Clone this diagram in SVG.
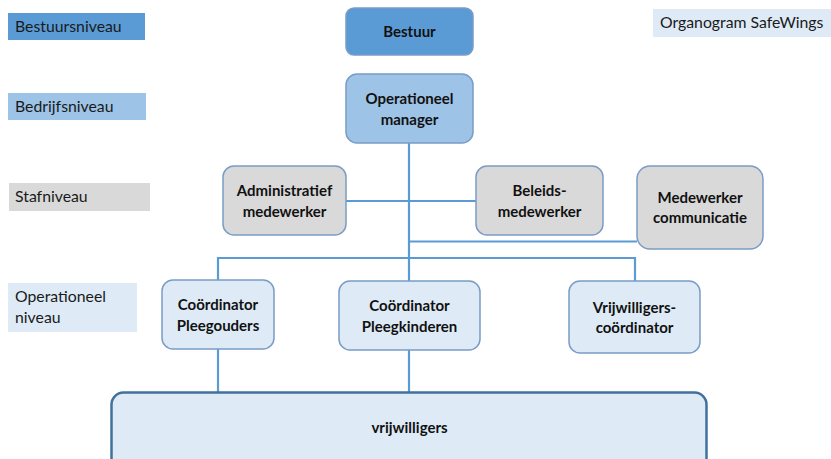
<svg xmlns="http://www.w3.org/2000/svg" width="831" height="459" viewBox="0 0 831 459">
  <style>
    .lvl { font-family: Lato, "Open Sans", "Liberation Sans", sans-serif; font-size: 15.8px; fill: #1a1a1a; }
    .box { stroke: #7a9cc6; stroke-width: 1.5; }
    .t { font-family: Lato, "Open Sans", "Liberation Sans", sans-serif; font-size: 15px; font-weight: bold; fill: #111; text-anchor: middle; }
    .c { stroke: #5b9bd5; stroke-width: 2.2; fill: none; }
  </style>
  <rect width="831" height="459" fill="#ffffff"/>

  <!-- level labels -->
  <g id="lvl-bestuur"><rect x="8" y="13" width="137" height="27" fill="#5b9bd5"/><text class="lvl" x="15" y="32">Bestuursniveau</text></g>
  <g id="lvl-bedrijf"><rect x="8" y="93" width="138" height="27" fill="#9dc3e6"/><text class="lvl" x="15" y="112">Bedrijfsniveau</text></g>
  <g id="lvl-staf"><rect x="9" y="183" width="141" height="28" fill="#d9d9d9"/><text class="lvl" x="15" y="202">Stafniveau</text></g>
  <g id="lvl-operationeel"><rect x="8" y="283" width="129" height="49" fill="#deebf7"/><text class="lvl" x="15" y="302">Operationeel</text><text class="lvl" x="15" y="323">niveau</text></g>
  <g id="title"><rect x="653" y="9" width="178" height="28" fill="#deebf7"/><text class="lvl" x="660" y="28">Organogram SafeWings</text></g>

  <!-- connectors -->
  <g id="connectors">
    <path class="c" d="M409 143 V281"/>
    <path class="c" d="M409 350 V392"/>
    <path class="c" d="M346 201 H476"/>
    <path class="c" d="M409 241.5 H637"/>
    <path class="c" d="M218 280 V258 H635 V281"/>
    <path class="c" d="M218 349 V392"/>
  </g>

  <!-- nodes -->
  <g id="bestuur"><rect class="box" x="346" y="8" width="127" height="47" rx="8" fill="#5b9bd5" stroke="#4a86c0"/><text class="t" x="409.5" y="37">Bestuur</text></g>
  <g id="operationeel-manager"><rect class="box" x="346" y="74" width="127" height="69" rx="11" fill="#9dc3e6"/><text class="t" x="409.5" y="104">Operationeel</text><text class="t" x="409.5" y="125">manager</text></g>
  <g id="administratief-medewerker"><rect class="box" x="223" y="166" width="123" height="69" rx="11" fill="#d9d9d9"/><text class="t" x="284.5" y="196">Administratief</text><text class="t" x="284.5" y="217">medewerker</text></g>
  <g id="beleidsmedewerker"><rect class="box" x="476" y="166" width="127" height="69" rx="11" fill="#d9d9d9"/><text class="t" x="539.5" y="196">Beleids-</text><text class="t" x="539.5" y="217">medewerker</text></g>
  <g id="medewerker-communicatie"><rect class="box" x="637" y="166" width="126" height="83" rx="13" fill="#d9d9d9"/><text class="t" x="700" y="203">Medewerker</text><text class="t" x="700" y="223">communicatie</text></g>
  <g id="coordinator-pleegouders"><rect class="box" x="162" y="280" width="112" height="69" rx="11" fill="#deebf7"/><text class="t" x="218" y="310">Coördinator</text><text class="t" x="218" y="331">Pleegouders</text></g>
  <g id="coordinator-pleegkinderen"><rect class="box" x="339" y="281" width="141" height="69" rx="11" fill="#deebf7"/><text class="t" x="409.5" y="311">Coördinator</text><text class="t" x="409.5" y="332">Pleegkinderen</text></g>
  <g id="vrijwilligers-coordinator"><rect class="box" x="569" y="281" width="131" height="72" rx="11" fill="#deebf7"/><text class="t" x="634.5" y="313">Vrijwilligers-</text><text class="t" x="634.5" y="333">coördinator</text></g>
  <g id="vrijwilligers"><rect x="111.5" y="392.5" width="595" height="80" rx="12" fill="#deebf7" stroke="#41719c" stroke-width="2.5"/><text class="t" x="409.5" y="433">vrijwilligers</text></g>
</svg>
